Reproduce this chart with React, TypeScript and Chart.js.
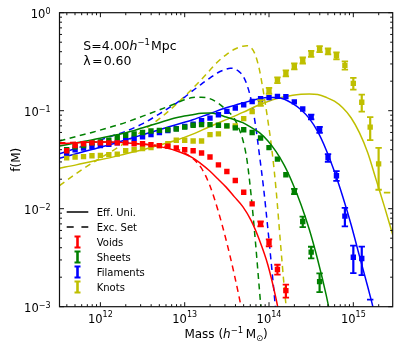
import React, { useEffect, useRef } from 'react';
import { Chart, registerables } from 'chart.js';

Chart.register(...registerables);

// ---------- data ----------
// log10 of the mass of every binned point (h^-1 Msun)
const pointLogM = [11.6, 11.7, 11.8, 11.9, 12.0, 12.1, 12.2, 12.3, 12.4, 12.5, 12.6, 12.7, 12.8, 12.9, 13.0, 13.1, 13.2, 13.3, 13.4, 13.5, 13.6, 13.7, 13.8, 13.9, 14.0, 14.1, 14.2, 14.3, 14.4, 14.5, 14.6, 14.7, 14.8, 14.9, 15.0, 15.1, 15.2, 15.3];

const voidsF = [0.039, 0.044, 0.046, 0.047, 0.047, 0.047, 0.047, 0.047, 0.046, 0.046, 0.045, 0.044, 0.0434, 0.0418, 0.040, 0.039, 0.037, 0.0337, 0.028, 0.024, 0.0194, 0.0147, 0.0112, 0.0070, 0.0045, 0.0024, 0.00146];
const voidsErr = [0.0008, 0.0008, 0.0008, 0.0008, 0.0008, 0.0008, 0.0008, 0.0008, 0.0008, 0.0008, 0.0008, 0.0008, 0.0008, 0.0008, 0.0008, 0.0007, 0.0007, 0.0007, 0.0006, 0.0006, 0.0005, 0.0005, 0.0004, 0.0004, 0.00036, 0.00028, 0.00022];

const sheetsF = [0.040, 0.0427, 0.044, 0.047, 0.048, 0.050, 0.053, 0.056, 0.058, 0.060, 0.062, 0.063, 0.064, 0.065, 0.068, 0.071, 0.072, 0.072, 0.071, 0.070, 0.0667, 0.064, 0.060, 0.0526, 0.042, 0.0321, 0.0222, 0.0150, 0.0074, 0.0036, 0.0018];
const sheetsErr = [0.001, 0.001, 0.001, 0.001, 0.001, 0.001, 0.001, 0.001, 0.001, 0.001, 0.001, 0.001, 0.001, 0.001, 0.001, 0.001, 0.001, 0.001, 0.001, 0.001, 0.001, 0.001, 0.001, 0.001, 0.001, 0.0008, 0.0008, 0.0009, 0.0009, 0.00049, 0.00039];

const filamentsF = [0.037, 0.040, 0.0415, 0.043, 0.044, 0.0455, 0.047, 0.0494, 0.052, 0.0543, 0.057, 0.0597, 0.0626, 0.0656, 0.069, 0.073, 0.079, 0.084, 0.091, 0.0984, 0.1066, 0.115, 0.124, 0.1326, 0.136, 0.140, 0.139, 0.123, 0.104, 0.0864, 0.064, 0.0331, 0.0217, 0.0084, 0.0032, 0.0031];
const filamentsErr = [0.0012, 0.0012, 0.0012, 0.0012, 0.0012, 0.0012, 0.0012, 0.0012, 0.0012, 0.0012, 0.0012, 0.0012, 0.0012, 0.0012, 0.0018, 0.0018, 0.0018, 0.0018, 0.0018, 0.0018, 0.0018, 0.0018, 0.0018, 0.0018, 0.0018, 0.0018, 0.0018, 0.003, 0.003, 0.005, 0.0045, 0.003, 0.0025, 0.0018, 0.001, 0.001];
const filamentsCapLogM = [15.2];
const filamentsCapHigh = [0.00118];

const knotsF = [0.033, 0.0336, 0.034, 0.0347, 0.035, 0.0356, 0.036, 0.039, 0.040, 0.041, 0.042, 0.044, 0.046, 0.050, 0.050, 0.049, 0.049, 0.057, 0.058, 0.070, 0.070, 0.083, 0.098, 0.12, 0.16, 0.205, 0.241, 0.284, 0.326, 0.381, 0.426, 0.403, 0.364, 0.29, 0.19, 0.122, 0.068, 0.0287];
const knotsErr = [0.0008, 0.0008, 0.0008, 0.0008, 0.0008, 0.0008, 0.0008, 0.0009, 0.0009, 0.0009, 0.0009, 0.001, 0.001, 0.001, 0.001, 0.001, 0.001, 0.0012, 0.0012, 0.0015, 0.0015, 0.0018, 0.0025, 0.008, 0.011, 0.014, 0.017, 0.02, 0.023, 0.027, 0.03, 0.028, 0.03, 0.028, 0.026, 0.024, 0.018, 0.0131];
const knotsCapLogM = [15.4];
const knotsCapHigh = [0.0146];

// model curves: effective universality (solid) and excursion set (dashed)
const voidsEffLogM = [11.515, 11.713, 11.91, 12.108, 12.305, 12.503, 12.701, 12.898, 13.096, 13.195, 13.294, 13.392, 13.491, 13.59, 13.689, 13.787, 13.886, 13.985, 14.084, 14.133];
const voidsEffF = [0.046, 0.047, 0.048, 0.048, 0.047, 0.0455, 0.043, 0.039, 0.033, 0.0287, 0.0244, 0.0202, 0.0166, 0.0132, 0.0105, 0.0076, 0.0048, 0.0027, 0.0012, 0.00073];
const voidsExcLogM = [11.515, 11.91, 12.305, 12.701, 12.898, 12.997, 13.096, 13.195, 13.294, 13.392, 13.491, 13.59, 13.689];
const voidsExcF = [0.047, 0.048, 0.047, 0.044, 0.041, 0.037, 0.0325, 0.0262, 0.0176, 0.0098, 0.0048, 0.0021, 0.00083];

const sheetsEffLogM = [11.515, 11.713, 11.91, 12.108, 12.305, 12.503, 12.701, 12.898, 13.096, 13.195, 13.294, 13.392, 13.491, 13.59, 13.689, 13.787, 13.886, 13.985, 14.084, 14.183, 14.282, 14.38, 14.479, 14.578, 14.677, 14.726];
const sheetsEffF = [0.0437, 0.047, 0.0506, 0.055, 0.0597, 0.067, 0.0755, 0.0848, 0.091, 0.094, 0.0947, 0.092, 0.0861, 0.0809, 0.0755, 0.0676, 0.0597, 0.0494, 0.0382, 0.0275, 0.018, 0.011, 0.0061, 0.003, 0.00133, 0.00083];
const sheetsExcLogM = [11.515, 11.713, 11.91, 12.108, 12.305, 12.503, 12.701, 12.898, 12.997, 13.096, 13.195, 13.294, 13.392, 13.491, 13.59, 13.639, 13.689, 13.738, 13.787, 13.837, 13.886, 13.916];
const sheetsExcF = [0.049, 0.0546, 0.0604, 0.0676, 0.0762, 0.088, 0.102, 0.119, 0.1295, 0.136, 0.1375, 0.133, 0.12, 0.102, 0.0828, 0.067, 0.0506, 0.0316, 0.0139, 0.0048, 0.0015, 0.00074];

const filamentsEffLogM = [11.515, 11.713, 11.91, 12.108, 12.305, 12.503, 12.701, 12.898, 13.096, 13.294, 13.491, 13.689, 13.886, 13.985, 14.084, 14.183, 14.282, 14.38, 14.479, 14.578, 14.677, 14.776, 14.874, 14.973, 15.072, 15.171, 15.22, 15.27];
const filamentsEffF = [0.0327, 0.0364, 0.0404, 0.045, 0.0506, 0.0569, 0.064, 0.072, 0.081, 0.0932, 0.107, 0.12, 0.1325, 0.136, 0.136, 0.131, 0.118, 0.1024, 0.083, 0.0611, 0.040, 0.0239, 0.0133, 0.0069, 0.0033, 0.0016, 0.0011, 0.00073];
const filamentsExcLogM = [11.515, 11.713, 11.91, 12.108, 12.305, 12.503, 12.701, 12.898, 12.997, 13.096, 13.195, 13.294, 13.392, 13.491, 13.541, 13.59, 13.639, 13.689, 13.738, 13.787, 13.837, 13.886, 13.935, 13.985, 14.034, 14.084];
const filamentsExcF = [0.0364, 0.0413, 0.047, 0.0543, 0.0618, 0.0739, 0.093, 0.119, 0.137, 0.16, 0.186, 0.214, 0.244, 0.265, 0.271, 0.268, 0.253, 0.228, 0.184, 0.13, 0.074, 0.0356, 0.0164, 0.0064, 0.0024, 0.00083];

const knotsEffLogM = [11.515, 11.713, 11.91, 12.108, 12.305, 12.503, 12.701, 12.898, 13.096, 13.294, 13.491, 13.689, 13.886, 14.084, 14.282, 14.38, 14.479, 14.578, 14.677, 14.776, 14.874, 14.973, 15.072, 15.171, 15.27, 15.369, 15.468];
const knotsEffF = [0.0259, 0.028, 0.0305, 0.033, 0.0364, 0.040, 0.0446, 0.050, 0.0577, 0.0686, 0.081, 0.096, 0.115, 0.1326, 0.144, 0.147, 0.148, 0.146, 0.137, 0.125, 0.107, 0.0848, 0.0597, 0.0373, 0.0198, 0.0105, 0.0054];
const knotsExcLogM = [11.515, 11.713, 11.91, 12.108, 12.305, 12.503, 12.701, 12.898, 13.096, 13.195, 13.294, 13.392, 13.491, 13.59, 13.689, 13.738, 13.787, 13.837, 13.886, 13.935, 13.985, 14.034, 14.084, 14.133, 14.183, 14.212];
const knotsExcF = [0.0172, 0.0228, 0.0295, 0.0373, 0.0477, 0.0626, 0.0829, 0.116, 0.169, 0.207, 0.256, 0.316, 0.372, 0.424, 0.455, 0.46, 0.44, 0.372, 0.262, 0.153, 0.081, 0.04, 0.0156, 0.0048, 0.0015, 0.00085];

const xTickExponents = [12, 13, 14, 15];
const yTickExponents = [0, -1, -2, -3];
const modelLabels = ['Eff. Uni.', 'Exc. Set'];
const seriesLabels = ['Voids', 'Sheets', 'Filaments', 'Knots'];

// ---------- styles ----------
const RED = '#ff0000';
const GREEN = '#008000';
const BLUE = '#0000ff';
const YELLOW = '#bfbf00';
const FONT = '"DejaVu Sans", "Liberation Sans", sans-serif';
const X_MIN = Math.pow(10, 11.515);
const X_MAX = Math.pow(10, 15.467);

const pointSeries = [
  { color: RED, values: voidsF, err: voidsErr, capLogM: [] as number[], capHigh: [] as number[] },
  { color: GREEN, values: sheetsF, err: sheetsErr, capLogM: [] as number[], capHigh: [] as number[] },
  { color: BLUE, values: filamentsF, err: filamentsErr, capLogM: filamentsCapLogM, capHigh: filamentsCapHigh },
  { color: YELLOW, values: knotsF, err: knotsErr, capLogM: knotsCapLogM, capHigh: knotsCapHigh },
];

const curveSeries = [
  { color: RED, logM: voidsEffLogM, f: voidsEffF, dashed: false },
  { color: GREEN, logM: sheetsEffLogM, f: sheetsEffF, dashed: false },
  { color: BLUE, logM: filamentsEffLogM, f: filamentsEffF, dashed: false },
  { color: YELLOW, logM: knotsEffLogM, f: knotsEffF, dashed: false },
  { color: RED, logM: voidsExcLogM, f: voidsExcF, dashed: true },
  { color: GREEN, logM: sheetsExcLogM, f: sheetsExcF, dashed: true },
  { color: BLUE, logM: filamentsExcLogM, f: filamentsExcF, dashed: true },
  { color: YELLOW, logM: knotsExcLogM, f: knotsExcF, dashed: true },
];

const DASH = [6, 4.5];

function setFont(ctx: CanvasRenderingContext2D, size: number, italic = false) {
  ctx.font = `${italic ? 'italic ' : ''}${size}px ${FONT}`;
}

const mplPlugin = {
  id: 'mplDecor',
  afterDatasetsDraw(chart: any) {
    const { ctx, chartArea: a } = chart;
    const xs = chart.scales.x;
    const ys = chart.scales.y;
    ctx.save();
    ctx.beginPath();
    ctx.rect(a.left, a.top, a.right - a.left, a.bottom - a.top);
    ctx.clip();
    const cap = 3.2;
    for (const s of pointSeries) {
      ctx.strokeStyle = s.color;
      s.values.forEach((v: number, i: number) => {
        const e = s.err[i];
        const px = xs.getPixelForValue(Math.pow(10, pointLogM[i]));
        const py = ys.getPixelForValue(v);
        const hi = ys.getPixelForValue(v + e);
        const lo = v - e > 0 ? ys.getPixelForValue(v - e) : a.bottom + 20;
        if (py - hi < 2.3 && lo - py < 2.3) return; // hidden under the marker
        ctx.lineWidth = 2.2;
        ctx.beginPath();
        ctx.moveTo(px, lo);
        ctx.lineTo(px, hi);
        ctx.stroke();
        ctx.lineWidth = 1.8;
        ctx.beginPath();
        ctx.moveTo(px - cap, hi);
        ctx.lineTo(px + cap, hi);
        ctx.moveTo(px - cap, lo);
        ctx.lineTo(px + cap, lo);
        ctx.stroke();
      });
      s.capLogM.forEach((lm: number, i: number) => {
        const px = xs.getPixelForValue(Math.pow(10, lm));
        const hi = ys.getPixelForValue(s.capHigh[i]);
        ctx.lineWidth = 1.8;
        ctx.beginPath();
        ctx.moveTo(px - cap, hi);
        ctx.lineTo(px + cap, hi);
        ctx.stroke();
      });
    }
    ctx.restore();
  },
  afterDraw(chart: any) {
    const { ctx, chartArea: a } = chart;
    const xs = chart.scales.x;
    const ys = chart.scales.y;
    ctx.save();
    // frame
    ctx.strokeStyle = '#111';
    ctx.lineWidth = 1.2;
    ctx.strokeRect(a.left, a.top, a.right - a.left, a.bottom - a.top);
    // ticks (inward, all sides)
    ctx.lineWidth = 1;
    ctx.beginPath();
    for (let d = 11; d <= 15; d++) {
      for (let m = 1; m <= 9; m++) {
        const v = m * Math.pow(10, d);
        if (v < X_MIN || v > X_MAX) continue;
        const px = xs.getPixelForValue(v);
        const len = m === 1 ? 4.5 : 2.5;
        ctx.moveTo(px, a.bottom);
        ctx.lineTo(px, a.bottom - len);
        ctx.moveTo(px, a.top);
        ctx.lineTo(px, a.top + len);
      }
    }
    for (let d = -3; d <= 0; d++) {
      for (let m = 1; m <= 9; m++) {
        const v = m * Math.pow(10, d);
        if (v < 0.001 || v > 1) continue;
        const py = ys.getPixelForValue(v);
        const len = m === 1 ? 4.5 : 2.5;
        ctx.moveTo(a.left, py);
        ctx.lineTo(a.left + len, py);
        ctx.moveTo(a.right, py);
        ctx.lineTo(a.right - len, py);
      }
    }
    ctx.stroke();

    ctx.fillStyle = '#000';
    ctx.textAlign = 'left';
    ctx.textBaseline = 'alphabetic';
    // x tick labels
    for (const e of xTickExponents) {
      const cx = xs.getPixelForValue(Math.pow(10, e));
      setFont(ctx, 11.5);
      const w1 = ctx.measureText('10').width;
      setFont(ctx, 8);
      const sup = String(e);
      const w2 = ctx.measureText(sup).width;
      const start = cx - (w1 + w2) / 2;
      setFont(ctx, 11.5);
      ctx.fillText('10', start, 323);
      setFont(ctx, 8);
      ctx.fillText(sup, start + w1, 316.5);
    }
    // y tick labels
    for (const e of yTickExponents) {
      const cy = ys.getPixelForValue(Math.pow(10, e));
      const sup = e < 0 ? '\u2212' + String(-e) : String(e);
      setFont(ctx, 11.5);
      const w1 = ctx.measureText('10').width;
      setFont(ctx, 8);
      const w2 = ctx.measureText(sup).width;
      const start = 50.5 - w1 - w2;
      setFont(ctx, 11.5);
      ctx.fillText('10', start, cy + 5.5);
      setFont(ctx, 8);
      ctx.fillText(sup, start + w1, cy + 0.8);
    }

    // x axis title: Mass (h^-1 M_sun)
    {
      const parts = [
        { t: 'Mass (', s: 12, it: false, dy: 0 },
        { t: 'h', s: 12, it: true, dy: 0 },
        { t: '\u22121', s: 8.5, it: false, dy: -5 },
        { t: '\u2009', s: 12, it: false, dy: 0 },
        { t: 'M', s: 12, it: false, dy: 0 },
        { t: '\u2299', s: 8.5, it: false, dy: 2.5 },
        { t: ')', s: 12, it: false, dy: 0 },
      ];
      let total = 0;
      for (const p of parts) { setFont(ctx, p.s, p.it); total += ctx.measureText(p.t).width; }
      let x = (a.left + a.right) / 2 - total / 2;
      for (const p of parts) {
        setFont(ctx, p.s, p.it);
        ctx.fillText(p.t, x, 338 + p.dy);
        x += ctx.measureText(p.t).width;
      }
    }
    // y axis title
    ctx.save();
    ctx.translate(19.5, (a.top + a.bottom) / 2);
    ctx.rotate(-Math.PI / 2);
    setFont(ctx, 12);
    ctx.textAlign = 'center';
    ctx.fillText('f(M)', 0, 0);
    ctx.restore();

    // annotation
    {
      let x = 83.3;
      const base = 50;
      setFont(ctx, 12.5);
      ctx.fillText('S=4.00', x, base);
      x += ctx.measureText('S=4.00').width;
      setFont(ctx, 12.5, true);
      ctx.fillText('h', x, base);
      x += ctx.measureText('h').width;
      setFont(ctx, 8.5);
      ctx.fillText('\u22121', x, base - 5);
      x += ctx.measureText('\u22121').width + 1;
      setFont(ctx, 12.5);
      ctx.fillText('Mpc', x, base);
      setFont(ctx, 12.5);
      ctx.fillText('\u03bb\u200a=\u200a0.60', 83.3, 64.5);
    }

    // legend
    {
      const rows = [212, 227, 242, 257, 272, 287];
      setFont(ctx, 10);
      ctx.strokeStyle = '#000';
      ctx.lineWidth = 1.5;
      ctx.beginPath();
      ctx.moveTo(66.7, rows[0]);
      ctx.lineTo(88.3, rows[0]);
      ctx.stroke();
      ctx.setLineDash([7, 7.7]);
      ctx.beginPath();
      ctx.moveTo(66.7, rows[1]);
      ctx.lineTo(88.3, rows[1]);
      ctx.stroke();
      ctx.setLineDash([]);
      ctx.fillStyle = '#000';
      ctx.fillText(modelLabels[0], 96.7, rows[0] + 3.7);
      ctx.fillText(modelLabels[1], 96.7, rows[1] + 3.7);
      pointSeries.forEach((s, i) => {
        const cy = rows[i + 2];
        const cx = 77.5;
        ctx.strokeStyle = s.color;
        ctx.lineWidth = 2.6;
        ctx.beginPath();
        ctx.moveTo(cx, cy - 5.5);
        ctx.lineTo(cx, cy + 5.5);
        ctx.stroke();
        ctx.lineWidth = 1.8;
        ctx.beginPath();
        ctx.moveTo(cx - 3, cy - 5.5);
        ctx.lineTo(cx + 3, cy - 5.5);
        ctx.moveTo(cx - 3, cy + 5.5);
        ctx.lineTo(cx + 3, cy + 5.5);
        ctx.stroke();
        ctx.fillStyle = '#000';
        ctx.fillText(seriesLabels[i], 96.7, cy + 3.7);
      });
    }
    ctx.restore();
  },
};

export default function App() {
  const ref = useRef<HTMLCanvasElement>(null);
  useEffect(() => {
    document.body.style.margin = '0';
    const canvas = ref.current;
    if (!canvas) return;
    const datasets: any[] = [];
    pointSeries.forEach((s) => {
      datasets.push({
        type: 'scatter',
        data: s.values.map((v: number, i: number) => ({ x: Math.pow(10, pointLogM[i]), y: v })),
        backgroundColor: s.color,
        borderColor: s.color,
        borderWidth: 0,
        pointStyle: 'rect',
        pointRadius: 3.8,
        showLine: false,
        clip: 0,
      });
    });
    curveSeries.forEach((c) => {
      datasets.push({
        type: 'line',
        data: c.logM.map((lm: number, i: number) => ({ x: Math.pow(10, lm), y: c.f[i] })),
        borderColor: c.color,
        borderWidth: 1.5,
        borderDash: c.dashed ? DASH : [],
        pointRadius: 0,
        fill: false,
        cubicInterpolationMode: 'monotone',
        clip: 0,
      });
    });
    const chart = new Chart(canvas, {
      type: 'line',
      data: { datasets },
      options: {
        animation: false,
        responsive: false,
        devicePixelRatio: 1,
        events: [],
        layout: { padding: { left: 59.5, top: 12.7, right: 6.3, bottom: 43.3 } },
        plugins: { legend: { display: false }, tooltip: { enabled: false } },
        scales: {
          x: { type: 'logarithmic', min: X_MIN, max: X_MAX, display: false, bounds: 'data' },
          y: { type: 'logarithmic', min: 0.001, max: 1, display: false, bounds: 'data' },
        },
      },
      plugins: [mplPlugin],
    } as any);
    return () => chart.destroy();
  }, []);
  return (
    <div style={{ width: 399, height: 350, position: 'relative', background: '#fff' }}>
      <canvas ref={ref} width={399} height={350} style={{ display: 'block', width: 399, height: 350 }} />
    </div>
  );
}
